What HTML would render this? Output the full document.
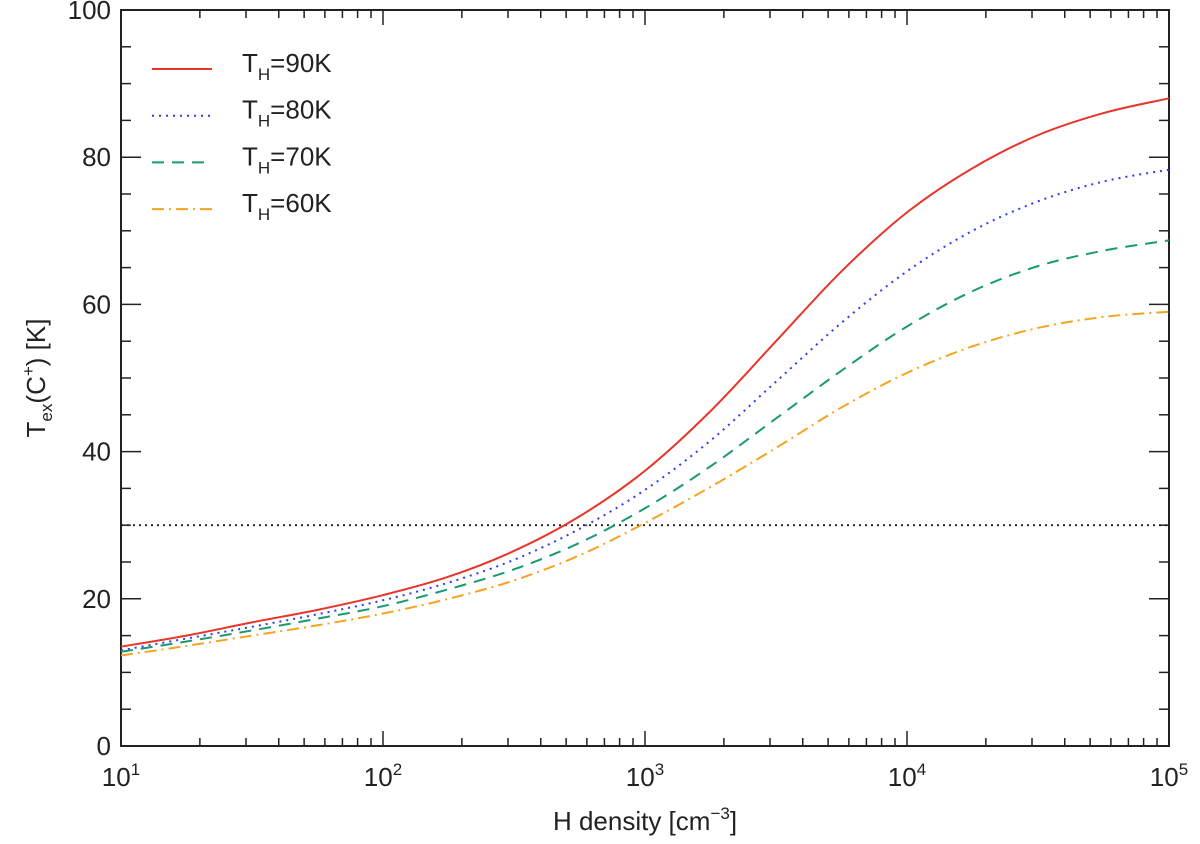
<!DOCTYPE html>
<html><head><meta charset="utf-8"><style>
html,body{margin:0;padding:0;background:#fff}
svg{display:block;font-family:"Liberation Sans","DejaVu Sans",sans-serif}
</style></head><body>
<svg id="chart" width="1200" height="844" viewBox="0 0 1200 844" xmlns="http://www.w3.org/2000/svg">
<g id="axes"></g><g id="series"></g><g id="legend"></g>
<text x="645" y="830" font-size="26" text-anchor="middle" fill="#222">H density [cm<tspan dy="-11" font-size="17">−3</tspan><tspan dy="11">]</tspan></text>
<text transform="translate(45,378) rotate(-90)" font-size="26" text-anchor="middle" fill="#222">T<tspan dy="7" font-size="17">ex</tspan><tspan dy="-7">(C</tspan><tspan dy="-11" font-size="17">+</tspan><tspan dy="11">) [K]</tspan></text>
</svg>
<script>
const logN = [1,1.25,1.5,1.75,2,2.25,2.5,2.75,3,3.25,3.5,3.75,4,4.25,4.5,4.75,5];
const t90 = [13.5,15,16.8,18.5,20.5,23,26.5,31.2,37.4,45.5,55,64.5,72.5,78.5,83,86,88];
const t80 = [13,14.6,16.2,17.9,19.8,22.2,25.3,29.5,34.8,41.5,49.5,57.5,64.5,70,74,76.7,78.3];
const t70 = [12.8,14.2,15.7,17.3,19,21.3,24,27.6,32.3,38,44.5,51,57,61.8,65.2,67.3,68.7];
const t60 = [12.3,13.6,15,16.4,18,20,22.5,25.9,30.3,35.2,40.5,46,50.7,54.3,56.8,58.3,59];
const yTicks = [0,20,40,60,80,100];
const xDecades = [1,2,3,4,5];
const threshold = 30;

const L=121,R=1169,T=10,B=746;
const sx=v=>L+(v-1)/4*(R-L);
const sy=v=>B-v/100*(B-T);
const NS="http://www.w3.org/2000/svg";
function mk(tag,attrs,parent){const e=document.createElementNS(NS,tag);for(const k in attrs)e.setAttribute(k,attrs[k]);parent.appendChild(e);return e;}
const ax=document.getElementById('axes');
const frame=mk('rect',{x:L,y:T,width:R-L,height:B-T,fill:'none',stroke:'#222','stroke-width':2},ax);


for(let v=0;v<=100;v+=5){
  const len=(v%20===0)?20:10;
  mk('line',{x1:L,x2:L+len,y1:sy(v),y2:sy(v),stroke:'#222','stroke-width':1.5},ax);
  mk('line',{x1:R,x2:R-len,y1:sy(v),y2:sy(v),stroke:'#222','stroke-width':1.5},ax);
}
yTicks.forEach(v=>{
  const t=mk('text',{x:L-10,y:sy(v)+9,'font-size':26,'text-anchor':'end',fill:'#222'},ax);
  t.textContent=v;
  
  
});
for(let d=1;d<=5;d++){
  for(let m=1;m<=9;m++){
    if(d===5&&m>1)break;
    const lv=d+Math.log10(m);const len=m===1?15:8;const x=sx(lv);
    mk('line',{x1:x,x2:x,y1:B,y2:B-len,stroke:'#222','stroke-width':1.5},ax);
    mk('line',{x1:x,x2:x,y1:T,y2:T+len,stroke:'#222','stroke-width':1.5},ax);
  }
}
xDecades.forEach(d=>{
  const t=mk('text',{x:sx(d),y:B+40,'font-size':26,'text-anchor':'middle',fill:'#222'},ax);
  t.innerHTML='10<tspan dy="-11" font-size="17">'+d+'</tspan>';
  
  
});
const th=mk('line',{x1:L,x2:R,y1:sy(threshold),y2:sy(threshold),stroke:'#222','stroke-width':1.8,'stroke-dasharray':'2,4'},ax);



function path(ys){
  const p=logN.map((x,i)=>[sx(x),sy(ys[i])]);
  let d='M'+p[0][0]+','+p[0][1];
  for(let i=0;i<p.length-1;i++){
    const p0=p[Math.max(0,i-1)],p1=p[i],p2=p[i+1],p3=p[Math.min(p.length-1,i+2)];
    d+=' C'+(p1[0]+(p2[0]-p0[0])/6)+','+(p1[1]+(p2[1]-p0[1])/6)+' '+(p2[0]-(p3[0]-p1[0])/6)+','+(p2[1]-(p3[1]-p1[1])/6)+' '+p2[0]+','+p2[1];
  }
  return d;
}
const series=[
 {ys:t90,c:'#e8352a',dash:'',label:'90K',name:'series-90k'},
 {ys:t80,c:'#2b3cf0',dash:'2,5',label:'80K',name:'series-80k'},
 {ys:t70,c:'#1a9a72',dash:'12,8',label:'70K',name:'series-70k'},
 {ys:t60,c:'#f5a320',dash:'12,5,2,5',label:'60K',name:'series-60k'}
];
const sg=document.getElementById('series'),lg=document.getElementById('legend');
series.forEach((s,i)=>{
  const p=mk('path',{d:path(s.ys),fill:'none',stroke:s.c,'stroke-width':2,'stroke-dasharray':s.dash},sg);
  
  
  const y=69+i*46.7;
  const ll=mk('line',{x1:152,x2:212,y1:y,y2:y,stroke:s.c,'stroke-width':2,'stroke-dasharray':s.dash},lg);
  
  
  const t=mk('text',{x:242,y:y+3,'font-size':26,fill:'#222'},lg);
  t.innerHTML='T<tspan dy="8" font-size="17">H</tspan><tspan dy="-8">='+s.label+'</tspan>';
  
  
});
</script>
</body></html>
